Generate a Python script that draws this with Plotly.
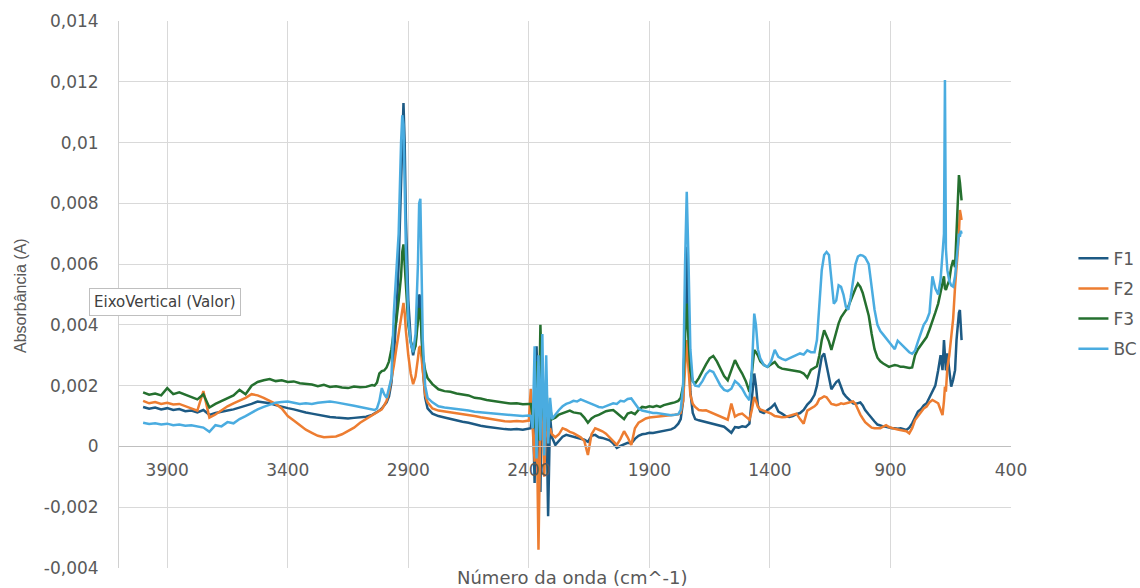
import plotly.graph_objects as go

# wavenumber grid (cm^-1), shared by the four spectra
wavenumber = [
    4000, 3975, 3950, 3925, 3900, 3875, 3850, 3825, 3800, 3775, 3750, 3725, 3700,
    3675, 3650, 3625, 3600, 3575, 3550, 3525, 3500, 3475, 3450, 3425, 3400, 3375,
    3350, 3325, 3300, 3275, 3250, 3225, 3200, 3175, 3150, 3125, 3100, 3075, 3050,
    3040, 3030, 3020, 3010, 3000, 2990, 2980, 2970, 2960, 2950, 2940, 2930, 2925,
    2920, 2915, 2910, 2900, 2890, 2880, 2870, 2860, 2855, 2850, 2845, 2840, 2830,
    2820, 2800,
    2775, 2750, 2725, 2700, 2675, 2650, 2625, 2600, 2575, 2550, 2525, 2500, 2475,
    2450, 2425, 2400,
    2392, 2384, 2376, 2368, 2360, 2352, 2344, 2336, 2328, 2320, 2312, 2304,
    2290, 2275, 2260, 2245, 2230, 2215, 2200, 2185, 2170, 2155, 2140, 2125, 2110,
    2095, 2080, 2065, 2050, 2035, 2020, 2005, 1990, 1975, 1960, 1945, 1930, 1915,
    1900, 1885, 1870, 1855, 1840, 1825, 1810, 1795, 1780,
    1770, 1760, 1752, 1745, 1738, 1730, 1720, 1710,
    1695, 1680, 1665, 1650, 1635, 1620, 1605, 1590, 1575, 1560, 1545, 1530, 1515,
    1500, 1485, 1475, 1465, 1458, 1450, 1440, 1425, 1410, 1395, 1380, 1365, 1350,
    1335, 1320, 1305, 1290, 1275, 1260, 1245, 1230, 1215, 1205, 1195, 1185, 1175,
    1165, 1155, 1145, 1135, 1125, 1115, 1105, 1095, 1085, 1075, 1065, 1055, 1045,
    1035, 1025, 1015, 1005,
    990, 978, 966, 954, 942, 930, 918, 906, 894, 882, 870, 858, 846, 834, 822, 810,
    798, 786, 774, 762, 750, 738, 726, 714, 702, 692, 684, 678, 674, 670, 664, 656,
    648, 640, 632, 626, 620, 616, 612, 608, 605,
]

f1 = [
    0.00130, 0.00124, 0.00128, 0.00122, 0.00126, 0.00120, 0.00123, 0.00116, 0.00118, 0.00112,
    0.00120, 0.00104, 0.00110, 0.00115, 0.00118, 0.00122, 0.00128, 0.00133, 0.00140, 0.00148,
    0.00145, 0.00142, 0.00136, 0.00130, 0.00126, 0.00122, 0.00116, 0.00112, 0.00108, 0.00104,
    0.00100, 0.00097, 0.00095, 0.00094, 0.00092, 0.00094, 0.00096, 0.00098, 0.00104,
    0.00108, 0.00114, 0.00118, 0.00125, 0.00135, 0.00145, 0.00165, 0.00210, 0.00300, 0.00420,
    0.00600, 0.00850, 0.01050, 0.01130, 0.01000, 0.00750, 0.00480, 0.00350, 0.00300, 0.00340,
    0.00440, 0.00500, 0.00490, 0.00380, 0.00260, 0.00160, 0.00125, 0.00108,
    0.00100, 0.00095, 0.00090, 0.00086, 0.00081, 0.00078, 0.00072, 0.00068, 0.00065, 0.00062,
    0.00060, 0.00057, 0.00056, 0.00057, 0.00055, 0.00058,
    0.0006, 0.0015, -0.0012, 0.0033, 0.0005, -0.0015, 0.0028, 0.0002, 0.0018, -0.0023, 0.0010, 0.0003,
    0.00005, 0.00020, 0.00032, 0.00038, 0.00035, 0.00030, 0.00028, 0.00025, 0.00022, 0.00015,
    0.00035, 0.00038, 0.00030, 0.00028, 0.00025, 0.00020, 0.00010, -0.00005, 0.00002, 0.00008,
    0.00012, 0.00010, 0.00025, 0.00035, 0.00040, 0.00042, 0.00045, 0.00044, 0.00046, 0.00048,
    0.00050, 0.00052, 0.00056, 0.00062, 0.00075,
    0.00090, 0.00150, 0.00420, 0.00657, 0.00400, 0.00180, 0.00110, 0.00090,
    0.00086, 0.00083, 0.00080, 0.00078, 0.00075, 0.00072, 0.00070, 0.00065, 0.00055, 0.00045,
    0.00064, 0.00062, 0.00066, 0.00064, 0.00075, 0.00160, 0.00240, 0.00200, 0.00135, 0.00115,
    0.00110, 0.00120, 0.00128, 0.00140, 0.00115, 0.00108, 0.00100, 0.00097, 0.00100, 0.00106,
    0.00110, 0.00120, 0.00138, 0.00150, 0.00170, 0.00200, 0.00250, 0.00295, 0.00306, 0.00270,
    0.00225, 0.00188, 0.00200, 0.00212, 0.00218, 0.00195, 0.00175, 0.00165, 0.00158, 0.00150,
    0.00142, 0.00140, 0.00142, 0.00145, 0.00135, 0.00120,
    0.00105, 0.00092, 0.00082, 0.00072, 0.00068, 0.00066, 0.00065, 0.00062, 0.00060, 0.00060,
    0.00058, 0.00060, 0.00056, 0.00054, 0.00062, 0.00076, 0.00095, 0.00115, 0.00122, 0.00135,
    0.00142, 0.00160, 0.00180, 0.00200, 0.00251, 0.00300, 0.00251, 0.00350, 0.00300, 0.00250,
    0.00306, 0.00240, 0.00197, 0.00220, 0.00251, 0.00350, 0.00416, 0.00440, 0.00449, 0.00400,
    0.00350,
]

f2 = [
    0.00150, 0.00142, 0.00146, 0.00140, 0.00144, 0.00138, 0.00140, 0.00132, 0.00125, 0.00118,
    0.00182, 0.00095, 0.00105, 0.00118, 0.00132, 0.00142, 0.00150, 0.00160, 0.00172, 0.00168,
    0.00160, 0.00150, 0.00140, 0.00125, 0.00100, 0.00085, 0.00070, 0.00055, 0.00045, 0.00035,
    0.00030, 0.00032, 0.00033, 0.00040, 0.00050, 0.00062, 0.00078, 0.00090, 0.00100,
    0.00105, 0.00110, 0.00115, 0.00122, 0.00135, 0.00150, 0.00180, 0.00220, 0.00265, 0.00320,
    0.00370, 0.00420, 0.00455, 0.00472, 0.00440, 0.00380, 0.00300, 0.00240, 0.00205, 0.00230,
    0.00290, 0.00325, 0.00330, 0.00290, 0.00230, 0.00170, 0.00145, 0.00125,
    0.00118, 0.00115, 0.00112, 0.00110, 0.00108, 0.00105, 0.00100, 0.00096, 0.00092, 0.00090,
    0.00086, 0.00083, 0.00082, 0.00084, 0.00082, 0.00085,
    0.0019, 0.0006, -0.0005, 0.0012, -0.0034, 0.0008, 0.0016, -0.0010, 0.0011, 0.0003, 0.0006, 0.0004,
    0.00030, 0.00040, 0.00060, 0.00055, 0.00048, 0.00044, 0.00038, 0.00030, 0.00018, -0.00028,
    0.00040, 0.00060, 0.00055, 0.00050, 0.00042, 0.00030, 0.00020, 0.00005, 0.00025, 0.00050,
    0.00030, 0.00005, 0.00060, 0.00078, 0.00085, 0.00092, 0.00095, 0.00096, 0.00098, 0.00100,
    0.00100, 0.00102, 0.00103, 0.00104, 0.00106,
    0.00110, 0.00150, 0.00280, 0.00350, 0.00260, 0.00170, 0.00140, 0.00130,
    0.00120, 0.00118, 0.00119, 0.00114, 0.00108, 0.00102, 0.00097, 0.00092, 0.00088, 0.00141,
    0.00098, 0.00105, 0.00108, 0.00098, 0.00088, 0.00120, 0.00163, 0.00150, 0.00130, 0.00122,
    0.00118, 0.00112, 0.00108, 0.00100, 0.00097, 0.00096, 0.00097, 0.00100, 0.00104, 0.00108,
    0.00090, 0.00075, 0.00118, 0.00125, 0.00132, 0.00140, 0.00156, 0.00160, 0.00165, 0.00162,
    0.00150, 0.00140, 0.00138, 0.00136, 0.00138, 0.00142, 0.00140, 0.00141, 0.00144, 0.00146,
    0.00148, 0.00140, 0.00120, 0.00105, 0.00092, 0.00080,
    0.00070, 0.00062, 0.00060, 0.00061, 0.00060, 0.00065, 0.00070, 0.00064, 0.00060, 0.00058,
    0.00056, 0.00054, 0.00054, 0.00050, 0.00043, 0.00060, 0.00087, 0.00100, 0.00112, 0.00125,
    0.00131, 0.00145, 0.00153, 0.00148, 0.00142, 0.00120, 0.00103, 0.00150, 0.00197, 0.00180,
    0.00260, 0.00300, 0.00361, 0.00420, 0.00526, 0.00580, 0.00650, 0.00700, 0.00778, 0.00760,
    0.00745,
]

f3 = [
    0.00178, 0.00170, 0.00174, 0.00168, 0.00192, 0.00172, 0.00178, 0.00170, 0.00162, 0.00155,
    0.00172, 0.00128, 0.00140, 0.00150, 0.00160, 0.00168, 0.00186, 0.00172, 0.00200, 0.00212,
    0.00218, 0.00222, 0.00215, 0.00218, 0.00212, 0.00214, 0.00208, 0.00205, 0.00204, 0.00198,
    0.00203, 0.00196, 0.00198, 0.00194, 0.00192, 0.00197, 0.00195, 0.00196, 0.00202,
    0.00200, 0.00210, 0.00240, 0.00248, 0.00250, 0.00260, 0.00280, 0.00320, 0.00380, 0.00410,
    0.00480, 0.00560, 0.00640, 0.00665, 0.00600, 0.00520, 0.00400, 0.00345, 0.00312, 0.00330,
    0.00400, 0.00455, 0.00440, 0.00370, 0.00300, 0.00250, 0.00225, 0.00205,
    0.00188, 0.00182, 0.00180, 0.00174, 0.00171, 0.00168, 0.00160, 0.00158, 0.00153, 0.00150,
    0.00146, 0.00143, 0.00141, 0.00142, 0.00139, 0.00140,
    0.0014, 0.0010, 0.0006, 0.0028, 0.0002, 0.0040, 0.0015, 0.0008, 0.0022, 0.0005, 0.0013, 0.0009,
    0.00095, 0.00105, 0.00110, 0.00115, 0.00118, 0.00112, 0.00110, 0.00108, 0.00095, 0.00078,
    0.00092, 0.00100, 0.00104, 0.00110, 0.00116, 0.00118, 0.00120, 0.00110, 0.00100, 0.00090,
    0.00108, 0.00112, 0.00106, 0.00120, 0.00130, 0.00128, 0.00132, 0.00130, 0.00134, 0.00130,
    0.00136, 0.00138, 0.00142, 0.00145, 0.00150,
    0.00160, 0.00200, 0.00360, 0.00470, 0.00360, 0.00250, 0.00215, 0.00207,
    0.00225, 0.00250, 0.00270, 0.00290, 0.00298, 0.00280, 0.00255, 0.00232, 0.00218, 0.00250,
    0.00284, 0.00260, 0.00240, 0.00215, 0.00180, 0.00240, 0.00317, 0.00310, 0.00300, 0.00280,
    0.00268, 0.00262, 0.00270, 0.00278, 0.00262, 0.00256, 0.00254, 0.00252, 0.00250, 0.00250,
    0.00246, 0.00240, 0.00226, 0.00252, 0.00258, 0.00264, 0.00300, 0.00350, 0.00382, 0.00365,
    0.00345, 0.00318, 0.00350, 0.00382, 0.00405, 0.00425, 0.00438, 0.00450, 0.00460, 0.00480,
    0.00503, 0.00520, 0.00536, 0.00525, 0.00505, 0.00475,
    0.00430, 0.00370, 0.00320, 0.00292, 0.00280, 0.00273, 0.00268, 0.00262, 0.00265, 0.00268,
    0.00266, 0.00262, 0.00262, 0.00260, 0.00258, 0.00260, 0.00300, 0.00320, 0.00334, 0.00345,
    0.00360, 0.00385, 0.00410, 0.00440, 0.00470, 0.00510, 0.00537, 0.00560, 0.00520, 0.00515,
    0.00530, 0.00547, 0.00590, 0.00613, 0.00590, 0.00700, 0.00850, 0.00893, 0.00870, 0.00833,
    0.00810,
]

bc = [
    0.00078, 0.00074, 0.00076, 0.00072, 0.00075, 0.00070, 0.00072, 0.00068, 0.00070, 0.00066,
    0.00062, 0.00048, 0.00070, 0.00066, 0.00080, 0.00076, 0.00090, 0.00100, 0.00112, 0.00122,
    0.00130, 0.00138, 0.00144, 0.00146, 0.00148, 0.00144, 0.00140, 0.00142, 0.00140, 0.00144,
    0.00146, 0.00148, 0.00145, 0.00142, 0.00138, 0.00134, 0.00130, 0.00126, 0.00122,
    0.00120, 0.00125, 0.00150, 0.00192, 0.00172, 0.00160, 0.00190, 0.00225, 0.00440, 0.00560,
    0.00700, 0.01000, 0.01090, 0.01060, 0.00880, 0.00650, 0.00420, 0.00340, 0.00310, 0.00370,
    0.00600, 0.00800, 0.00815, 0.00600, 0.00350, 0.00200, 0.00160, 0.00145,
    0.00132, 0.00128, 0.00126, 0.00122, 0.00120, 0.00118, 0.00114, 0.00112, 0.00110, 0.00108,
    0.00106, 0.00104, 0.00103, 0.00101, 0.00100, 0.00102,
    0.0010, 0.0006, 0.0033, -0.0004, 0.0030, 0.0002, 0.0037, -0.0003, 0.0030, 0.0001, 0.0016, 0.0009,
    0.00105, 0.00120, 0.00132, 0.00140, 0.00144, 0.00150, 0.00148, 0.00155, 0.00150, 0.00146,
    0.00140, 0.00135, 0.00130, 0.00128, 0.00132, 0.00138, 0.00142, 0.00140, 0.00150, 0.00148,
    0.00156, 0.00158, 0.00142, 0.00125, 0.00118, 0.00115, 0.00112, 0.00110, 0.00110, 0.00108,
    0.00106, 0.00104, 0.00103, 0.00104, 0.00106,
    0.00120, 0.00200, 0.00600, 0.00838, 0.00620, 0.00320, 0.00215, 0.00200,
    0.00198, 0.00215, 0.00238, 0.00250, 0.00245, 0.00220, 0.00200, 0.00186, 0.00182, 0.00190,
    0.00215, 0.00205, 0.00190, 0.00168, 0.00152, 0.00250, 0.00437, 0.00400, 0.00320, 0.00290,
    0.00268, 0.00262, 0.00280, 0.00318, 0.00295, 0.00288, 0.00284, 0.00290, 0.00296, 0.00300,
    0.00306, 0.00302, 0.00316, 0.00310, 0.00310, 0.00350, 0.00460, 0.00580, 0.00630, 0.00640,
    0.00630, 0.00560, 0.00470, 0.00480, 0.00530, 0.00525, 0.00500, 0.00460, 0.00450, 0.00490,
    0.00540, 0.00600, 0.00625, 0.00630, 0.00628, 0.00622,
    0.00600, 0.00530, 0.00450, 0.00400, 0.00380, 0.00368, 0.00355, 0.00345, 0.00330, 0.00320,
    0.00348, 0.00338, 0.00328, 0.00318, 0.00310, 0.00305, 0.00315, 0.00345, 0.00375, 0.00400,
    0.00415, 0.00440, 0.00560, 0.00520, 0.00500, 0.00550, 0.00635, 0.00700, 0.01206, 0.00650,
    0.00580, 0.00545, 0.00530, 0.00526, 0.00560, 0.00613, 0.00680, 0.00700, 0.00690, 0.00710,
    0.00700,
]

series_names = ["F1", "F2", "F3", "BC"]
series_colors = ["#1d5a84", "#ed7d31", "#25702f", "#4aace0"]

x_ticks = [3900, 3400, 2900, 2400, 1900, 1400, 900, 400]
y_ticks = [0.014, 0.012, 0.01, 0.008, 0.006, 0.004, 0.002, 0, -0.002, -0.004]
y_tick_text = ["0,014", "0,012", "0,01", "0,008", "0,006", "0,004", "0,002", "0", "-0,002", "-0,004"]

for s in (f1, f2, f3, bc):
    assert len(s) == len(wavenumber), (len(s), len(wavenumber))

TEXT_COLOR = "#595959"
GRID_COLOR = "#d9d9d9"

fig = go.Figure()
for name, values, color in zip(series_names, [f1, f2, f3, bc], series_colors):
    fig.add_trace(
        go.Scatter(
            x=wavenumber,
            y=values,
            name=name,
            mode="lines",
            line=dict(color=color, width=2.5),
            legendgroup=name,
        )
    )

fig.update_layout(
    width=1140,
    height=588,
    margin=dict(l=119, r=129, t=21, b=20, autoexpand=False),
    paper_bgcolor="white",
    plot_bgcolor="white",
    font=dict(family="DejaVu Sans", size=17, color=TEXT_COLOR),
    xaxis=dict(
        range=[4100, 400],
        tickmode="array",
        tickvals=x_ticks,
        showgrid=True,
        gridcolor=GRID_COLOR,
        gridwidth=1,
        zeroline=False,
        showline=True,
        linecolor="#bfbfbf",
        anchor="free",
        position=4 / 18,
        ticks="",
        ticklabelstandoff=8,
        automargin=False,
    ),
    yaxis=dict(
        range=[-0.004, 0.014],
        tickmode="array",
        tickvals=y_ticks,
        ticktext=y_tick_text,
        showgrid=True,
        gridcolor=GRID_COLOR,
        gridwidth=1,
        zeroline=False,
        showline=True,
        linecolor="#d0d0d0",
        ticks="",
        ticklabelstandoff=16,
        automargin=False,
    ),
    legend=dict(
        x=1.070,
        xanchor="left",
        y=0.483,
        yanchor="middle",
        font=dict(size=17, color=TEXT_COLOR),
        tracegroupgap=5,
        bgcolor="rgba(0,0,0,0)",
    ),
    annotations=[
        dict(
            text="Absorbância (A)",
            xref="paper", yref="paper",
            x=-0.111, y=0.499,
            xanchor="center", yanchor="middle",
            textangle=-90,
            showarrow=False,
            font=dict(family="Liberation Sans", size=16, color=TEXT_COLOR),
        ),
        dict(
            text="Número da onda (cm^-1)",
            xref="paper", yref="paper",
            x=0.508, y=-0.018,
            xanchor="center", yanchor="middle",
            showarrow=False,
            font=dict(size=18, color=TEXT_COLOR),
        ),
        dict(
            text="EixoVertical (Valor)",
            xref="paper", yref="paper",
            x=0.0516, y=0.486,
            xanchor="center", yanchor="middle",
            showarrow=False,
            bgcolor="white",
            bordercolor="#bfbfbf",
            borderwidth=1,
            borderpad=4,
            font=dict(size=15, color="#404040"),
        ),
    ],
)

# the page's default body margin would shift the figure inside the window
fig.write_html(
    "out.html",
    config={"displayModeBar": False},
    post_script="document.body.style.margin = '0';",
)
